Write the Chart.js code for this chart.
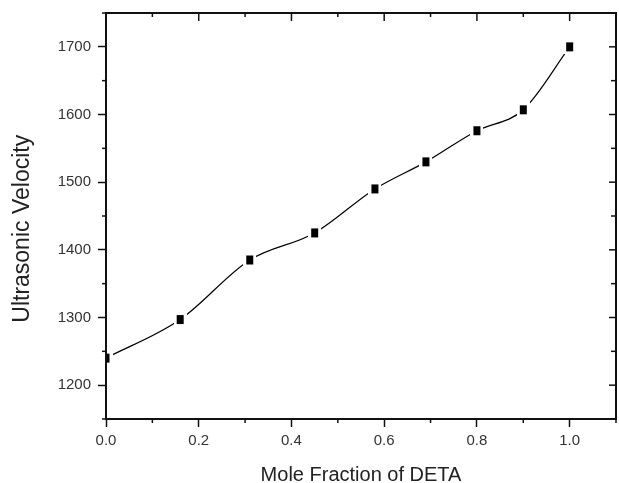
<!DOCTYPE html>
<html>
<head>
<meta charset="utf-8">
<script src="https://cdn.jsdelivr.net/npm/chart.js@4"></script>
<style>
  html, body { margin: 0; padding: 0; background: #fff; }
  #wrap { width: 619px; height: 483px; }
</style>
</head>
<body>
<div id="wrap"><canvas id="chart"></canvas></div>
<script>
// Values
const moleFraction = [0, 0.16, 0.31, 0.45, 0.58, 0.69, 0.80, 0.90, 1.0];
const velocity     = [1240, 1297, 1385, 1425, 1490, 1530, 1576, 1607, 1700];

const xTickLabels = ['0.0', '0.2', '0.4', '0.6', '0.8', '1.0'];
const yTickLabels = [1200, 1300, 1400, 1500, 1600, 1700];

const tickFont = { family: '"Liberation Sans", Arial, sans-serif', size: 15 };

const isMajorX = v => xTickLabels.includes(Number(v).toFixed(1));
const isMajorY = v => yTickLabels.includes(Math.round(v));

// Black square symbol with a thin white halo, so the line stops short of it
function squareMarker() {
    const c = document.createElement('canvas');
    c.width = 13; c.height = 15;
    const g = c.getContext('2d');
    g.fillStyle = '#fff';
    g.fillRect(0, 0, 13, 15);
    g.fillStyle = '#000';
    g.fillRect(3, 3, 7, 9);
    return c;
}

// Frame on all four sides, minor ticks, inward ticks on top and right
const framePlugin = {
    id: 'frame',
    afterDraw(chart) {
        const { ctx, chartArea: a, scales: { x, y } } = chart;
        const seg = (x1, y1, x2, y2) => { ctx.beginPath(); ctx.moveTo(x1, y1); ctx.lineTo(x2, y2); ctx.stroke(); };
        ctx.save();
        ctx.strokeStyle = '#111';
        ctx.lineWidth = 1.5;

        x.ticks.forEach(t => {
            const px = x.getPixelForValue(t.value);
            const major = isMajorX(t.value);
            seg(px, a.top, px, a.top + (major ? 8 : 4));
            if (!major) seg(px, a.bottom, px, a.bottom + 4);
        });
        y.ticks.forEach(t => {
            const py = y.getPixelForValue(t.value);
            const major = isMajorY(t.value);
            seg(a.right, py, a.right - (major ? 7 : 5), py);
            if (!major) seg(a.left, py, a.left - 4, py);
        });

        ctx.lineWidth = 2;
        ctx.strokeRect(a.left, a.top, a.right - a.left, a.bottom - a.top);
        ctx.restore();
    },
};

new Chart(document.getElementById('chart'), {
    type: 'line',
    data: {
        datasets: [{
            data: moleFraction.map((xv, i) => ({ x: xv, y: velocity[i] })),
            borderColor: '#000',
            borderWidth: 1.2,
            cubicInterpolationMode: 'monotone',
            pointStyle: squareMarker(),
            pointRadius: 5,
            pointHoverRadius: 5,
        }],
    },
    options: {
        responsive: true,
        maintainAspectRatio: false,
        animation: false,
        events: [],
        layout: { autoPadding: false, padding: { top: 13, right: 3, left: 0, bottom: 0 } },
        plugins: {
            legend: { display: false },
            tooltip: { enabled: false },
        },
        scales: {
            x: {
                type: 'linear',
                min: 0,
                max: 1.1,
                afterFit: s => { s.height = 64; s.paddingLeft = 0; s.paddingRight = 0; },
                border: { display: false },
                grid: {
                    drawOnChartArea: false,
                    tickLength: 8,
                    tickWidth: 1.5,
                    tickColor: c => (isMajorX(c.tick.value) ? '#111' : 'rgba(0,0,0,0)'),
                },
                ticks: {
                    stepSize: 0.1,
                    autoSkip: false,
                    maxRotation: 0,
                    maxTicksLimit: 20,
                    padding: 5,
                    color: '#333',
                    font: tickFont,
                    callback: v => (isMajorX(v) ? Number(v).toFixed(1) : ''),
                },
                title: {
                    display: true,
                    text: 'Mole Fraction of DETA',
                    color: '#222',
                    font: { family: '"Liberation Sans", Arial, sans-serif', size: 20, lineHeight: 0.8 },
                    padding: { top: 0, bottom: 0 },
                },
            },
            y: {
                type: 'linear',
                min: 1150,
                max: 1750,
                afterFit: s => { s.width = 106; s.paddingTop = 0; s.paddingBottom = 0; },
                border: { display: false },
                grid: {
                    drawOnChartArea: false,
                    tickLength: 8,
                    tickWidth: 1.5,
                    tickColor: c => (isMajorY(c.tick.value) ? '#111' : 'rgba(0,0,0,0)'),
                },
                ticks: {
                    stepSize: 50,
                    autoSkip: false,
                    maxTicksLimit: 20,
                    padding: 7,
                    color: '#333',
                    font: tickFont,
                    callback: v => (isMajorY(v) ? String(Math.round(v)) : ''),
                },
                title: {
                    display: true,
                    text: 'Ultrasonic Velocity\u00a0\u00a0\u00a0\u00a0',
                    color: '#222',
                    font: { family: '"Liberation Sans", Arial, sans-serif', size: 23 },
                    padding: { top: 9, bottom: 0 },
                },
            },
        },
    },
    plugins: [framePlugin],
});
</script>
</body>
</html>
